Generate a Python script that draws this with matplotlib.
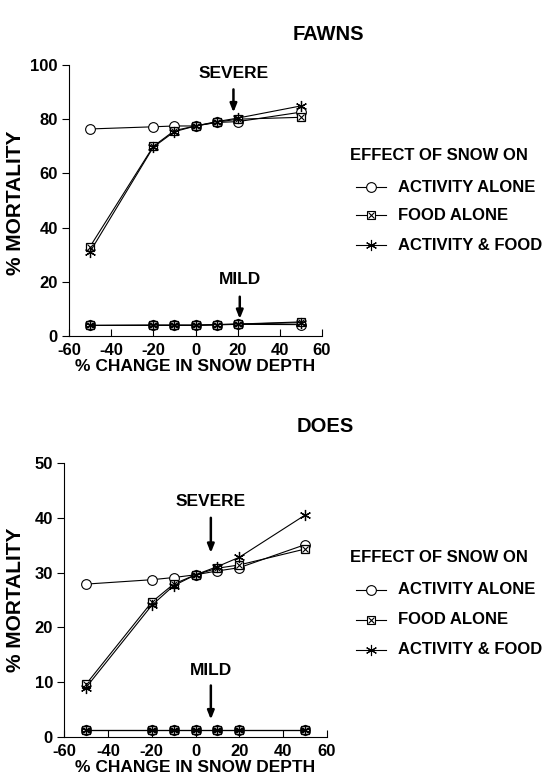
import matplotlib
matplotlib.use("Agg")
import matplotlib.pyplot as plt
from matplotlib.lines import Line2D

plt.rcParams['font.family'] = ['Liberation Sans', 'DejaVu Sans']
plt.rcParams['font.weight'] = 'bold'
plt.rcParams['axes.labelweight'] = 'bold'

x = [-50, -20, -10, 0, 10, 20, 50]

# FAWNS - severe winter
f_sev_act = [76.4, 77.2, 77.5, 77.5, 78.8, 79.1, 82.6]
f_sev_food = [33.0, 70.0, 75.8, 77.5, 78.9, 80.0, 80.7]
f_sev_both = [31.1, 69.7, 75.4, 77.5, 79.1, 80.4, 84.9]
# FAWNS - mild winter
f_mild_act = [3.9, 3.9, 3.9, 3.9, 4.1, 4.3, 4.2]
f_mild_food = [3.9, 4.0, 4.0, 4.0, 4.2, 4.4, 5.2]
f_mild_both = [3.9, 4.0, 4.0, 4.0, 4.2, 4.4, 4.9]

# DOES - severe winter
d_sev_act = [27.9, 28.7, 29.1, 29.6, 30.3, 30.9, 35.1]
d_sev_food = [9.6, 24.6, 27.9, 29.6, 30.8, 31.4, 34.3]
d_sev_both = [9.0, 24.0, 27.6, 29.6, 31.1, 32.8, 40.5]
# DOES - mild winter
d_mild_act = [1.3, 1.3, 1.3, 1.3, 1.3, 1.3, 1.3]
d_mild_food = [1.3, 1.3, 1.3, 1.3, 1.3, 1.3, 1.3]
d_mild_both = [1.3, 1.3, 1.3, 1.3, 1.3, 1.3, 1.3]

legend_title = "EFFECT OF SNOW ON"
legend_labels = ["ACTIVITY ALONE", "FOOD ALONE", "ACTIVITY & FOOD"]
xticks = [-60, -40, -20, 0, 20, 40, 60]

W, H = 545, 782
fig = plt.figure(figsize=(W / 100, H / 100), dpi=100)

lw = 0.8
ASTER = (6, 2, 0)

def fx(px):
    return px / W

def fy(py):
    return 1 - py / H

def plot_effect(ax, act, food, both):
    ax.plot(x, act, color='black', lw=lw, marker='o', ms=7, mfc='white', mec='black', mew=0.8, zorder=3)
    ax.plot(x, food, color='black', lw=lw, marker='s', ms=6, mfc='white', mec='black', mew=0.9, zorder=4)
    ax.plot(x, food, color='none', lw=0, marker='x', ms=5, mec='black', mew=0.8, zorder=5)
    ax.plot(x, both, color='black', lw=lw, marker=ASTER, ms=8, mec='black', mew=0.9, zorder=6)

def style_axes(ax, ymax, ystep, ylab_y):
    ax.set_xlim(-60, 60)
    ax.set_ylim(0, ymax)
    ax.spines['top'].set_visible(False)
    ax.spines['right'].set_visible(False)
    ax.spines['left'].set_linewidth(0.8)
    ax.spines['bottom'].set_linewidth(0.8)
    ax.set_xticks(xticks)
    ax.set_xticklabels([str(v) for v in xticks], fontweight='bold', fontsize=12)
    ax.set_yticks(range(0, ymax + 1, ystep))
    ax.set_yticklabels([str(v) for v in range(0, ymax + 1, ystep)], fontweight='bold', fontsize=12)
    ax.tick_params(axis='x', direction='in', length=5, width=0.8, pad=5)
    ax.tick_params(axis='y', direction='out', length=5, width=0.8, pad=3)
    ax.set_xlabel("% CHANGE IN SNOW DEPTH", fontsize=12.5, fontweight='bold', labelpad=1)
    ax.set_ylabel("% MORTALITY", fontsize=15, fontweight='bold')
    ax.yaxis.set_label_coords(fx(25), fy(ylab_y), transform=fig.transFigure)
    ax.set_facecolor('none')

def arrow(ax, label, xv, ytext, ytop, ybot):
    ax.annotate("", xy=(xv, ybot), xytext=(xv, ytop),
                arrowprops=dict(arrowstyle='-|>,head_length=0.5,head_width=0.2',
                                color='black', lw=1.8, shrinkA=0, shrinkB=0))
    ax.text(xv, ytext, label, ha='center', va='center', fontsize=12.5, fontweight='bold')

def legend(ty, ys):
    fig.text(fx(350), fy(ty), legend_title, ha='left', va='center', fontsize=12, fontweight='bold')
    styles = [dict(marker='o', ms=7, mfc='white'),
              dict(marker='s', ms=5.5, mfc='white'),
              dict(marker=ASTER, ms=8, mfc='black')]
    for i, (yy, lab) in enumerate(zip(ys, legend_labels)):
        ln = Line2D([fx(356), fx(386)], [fy(yy), fy(yy)], transform=fig.transFigure,
                    color='black', lw=lw)
        fig.add_artist(ln)
        fig.add_artist(Line2D([fx(371)], [fy(yy)], transform=fig.transFigure, lw=0,
                              color='black', mec='black', mew=0.8, **styles[i]))
        if i == 1:
            fig.add_artist(Line2D([fx(371)], [fy(yy)], transform=fig.transFigure, lw=0,
                                  marker='x', ms=4.5, mec='black', mew=0.8))
        fig.text(fx(398), fy(yy), lab, ha='left', va='center', fontsize=12, fontweight='bold')

# Top panel: FAWNS
ax1 = fig.add_axes([fx(69), fy(336), fx(322 - 69), (336 - 65) / H])
plot_effect(ax1, f_sev_act, f_sev_food, f_sev_both)
plot_effect(ax1, f_mild_act, f_mild_food, f_mild_both)
style_axes(ax1, 100, 20, 203)
arrow(ax1, "SEVERE", 18, 97, 91, 82.5)
arrow(ax1, "MILD", 21, 20.7, 14.5, 6.3)
fig.text(fx(328), fy(34), "FAWNS", ha='center', va='center', fontsize=14.5, fontweight='bold')
legend(155, [187, 215, 245])

# Bottom panel: DOES
ax2 = fig.add_axes([fx(64), fy(737), fx(327 - 64), (737 - 463) / H])
plot_effect(ax2, d_sev_act, d_sev_food, d_sev_both)
plot_effect(ax2, d_mild_act, d_mild_food, d_mild_both)
style_axes(ax2, 50, 10, 600)
arrow(ax2, "SEVERE", 7, 42.9, 40, 33.6)
arrow(ax2, "MILD", 7, 12.2, 9.4, 3.2)
fig.text(fx(325), fy(426), "DOES", ha='center', va='center', fontsize=14.5, fontweight='bold')
legend(557, [590, 620, 650])

fig.savefig("out.png", dpi=100)
